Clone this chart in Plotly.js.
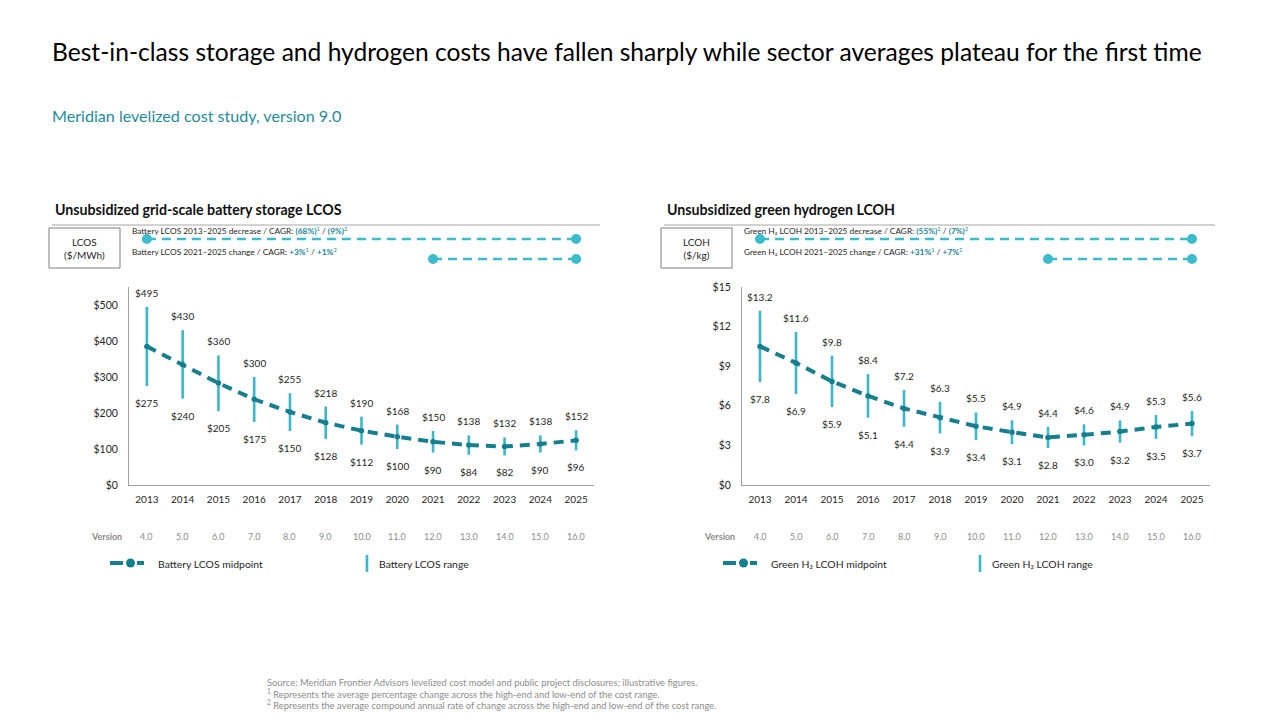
<!DOCTYPE html>
<html>
<head>
<meta charset="utf-8">
<script src="https://cdn.plot.ly/plotly-3.0.1.min.js"></script>
<style>html,body{margin:0;padding:0;background:#fff;}#chart{width:1280px;height:720px;}</style>
</head>
<body>
<div id="chart"></div>
<script>
// ---------- data ----------
const years = ['2013','2014','2015','2016','2017','2018','2019','2020','2021','2022','2023','2024','2025'];
const versions = ['4.0','5.0','6.0','7.0','8.0','9.0','10.0','11.0','12.0','13.0','14.0','15.0','16.0'];

const batteryHigh = [495,430,360,300,255,218,190,168,150,138,132,138,152];
const batteryLow  = [275,240,205,175,150,128,112,100,90,84,82,90,96];
const batteryMid  = [385,335,283,238,203,173,151,134,120,111,107,114,124];
const batteryTicks = [0,100,200,300,400,500];

const h2High = [13.2,11.6,9.8,8.4,7.2,6.3,5.5,4.9,4.4,4.6,4.9,5.3,5.6];
const h2Low  = [7.8,6.9,5.9,5.1,4.4,3.9,3.4,3.1,2.8,3.0,3.2,3.5,3.7];
const h2Mid  = [10.5,9.25,7.85,6.75,5.8,5.1,4.45,4.0,3.6,3.8,4.05,4.4,4.65];
const h2Ticks = [0,3,6,9,12,15];

const periodStart = ['2013','2021'];
const periodEnd   = ['2025','2025'];

const batteryStats = [
  {label:'Battery LCOS 2013\u20132025 decrease / CAGR: ', a:'(68%)', b:'(9%)'},
  {label:'Battery LCOS 2021\u20132025 change / CAGR: ', a:'+3%', b:'+1%'}
];
const h2Stats = [
  {label:'Green H\u2082 LCOH 2013\u20132025 decrease / CAGR: ', a:'(55%)', b:'(7%)'},
  {label:'Green H\u2082 LCOH 2021\u20132025 change / CAGR: ', a:'+31%', b:'+7%'}
];

// ---------- styles ----------
const FONT = 'Lato, "Open Sans", sans-serif';
const MID_COLOR = '#167f8f';
const RANGE_COLOR = '#3ab8cb';
const HEAD_COLOR = '#3bbccd';
const TEAL_TEXT = '#1a8595';
const AXIS_COLOR = '#a0a0a0';

const W = 1280, H = 720;
const px = x => x / W;
const py = y => (H - y) / H;

const traces = [];
const annotations = [];
const shapes = [];

function rangeSegments(high, low) {
  const xs = [], ys = [];
  years.forEach((yr, i) => { xs.push(yr, yr, null); ys.push(low[i], high[i], null); });
  return {xs, ys};
}

function buildPanel(opt) {
  const {xid, yid, yhid, high, low, mid, fmt, stats, midName, rangeName, panelLeft, panelRight, title, unitText, legendX} = opt;

  const seg = rangeSegments(high, low);
  traces.push({x: seg.xs, y: seg.ys, xaxis: xid, yaxis: yid, type: 'scatter', mode: 'lines',
    line: {color: RANGE_COLOR, width: 2.6}, hoverinfo: 'skip', showlegend: false, connectgaps: false, name: rangeName});
  traces.push({x: years, y: mid, xaxis: xid, yaxis: yid, type: 'scatter', mode: 'lines+markers',
    line: {color: MID_COLOR, width: 4, dash: '10px,7px'}, marker: {color: MID_COLOR, size: 5.5},
    showlegend: false, name: midName});

  years.forEach((yr, i) => {
    annotations.push({xref: xid, yref: yid, x: i, y: high[i], yshift: 14, text: fmt(high[i]), showarrow: false,
      xanchor: 'center', yanchor: 'middle', font: {family: FONT, size: 10, color: '#262626'}});
    annotations.push({xref: xid, yref: yid, x: i, y: low[i], yshift: -17, text: fmt(low[i]), showarrow: false,
      xanchor: 'center', yanchor: 'middle', font: {family: FONT, size: 10, color: '#262626'}});
    annotations.push({xref: xid, yref: 'paper', x: i, y: py(536), text: versions[i], showarrow: false,
      xanchor: 'center', yanchor: 'middle', font: {family: FONT, size: 9, color: '#8c8c8c'}});
  });

  // header period segments
  periodStart.forEach((s, k) => {
    traces.push({x: [s, periodEnd[k]], y: [1.5 - k, 1.5 - k], xaxis: xid, yaxis: yhid, type: 'scatter', mode: 'lines+markers',
      line: {color: HEAD_COLOR, width: 2.5, dash: '9px,6px'}, marker: {color: HEAD_COLOR, size: 10},
      hoverinfo: 'skip', showlegend: false});
  });

  // header stats text
  stats.forEach((st, k) => {
    annotations.push({xref: 'paper', yref: 'paper', x: px(panelLeft + 77), y: py(231 + k * 21), xanchor: 'left', yanchor: 'middle',
      showarrow: false,
      text: st.label + '<span style="color:' + TEAL_TEXT + '"><b>' + st.a + '</b><sup>1</sup></span> / ' +
            '<span style="color:' + TEAL_TEXT + '"><b>' + st.b + '</b><sup>2</sup></span>',
      font: {family: FONT, size: 8.3, color: '#262626'}});
  });

  // panel title and underline
  annotations.push({xref: 'paper', yref: 'paper', x: px(panelLeft), y: py(210), xanchor: 'left', yanchor: 'middle', showarrow: false,
    text: '<b>' + title + '</b>', font: {family: FONT, size: 14.2, color: '#111'}});
  shapes.push({type: 'line', xref: 'paper', yref: 'paper', x0: px(panelLeft - 1), x1: px(panelRight), y0: py(225), y1: py(225),
    line: {color: '#a6a6a6', width: 1}});
  // unit box
  shapes.push({type: 'rect', xref: 'paper', yref: 'paper', x0: px(panelLeft - 4), x1: px(panelLeft + 67), y0: py(228), y1: py(268),
    line: {color: '#7f7f7f', width: 1}, fillcolor: 'rgba(0,0,0,0)'});
  annotations.push({xref: 'paper', yref: 'paper', x: px(panelLeft + 31.5), y: py(248), xanchor: 'center', yanchor: 'middle', showarrow: false,
    text: unitText, font: {family: FONT, size: 10, color: '#262626'}});

  // Version label
  annotations.push({xref: 'paper', yref: 'paper', x: px(legendX - 21), y: py(536), xanchor: 'left', yanchor: 'middle', showarrow: false,
    text: '<b>Version</b>', font: {family: FONT, size: 9, color: '#8c8c8c'}});

  // legend: midpoint
  shapes.push({type: 'line', xref: 'paper', yref: 'paper', x0: px(legendX), x1: px(legendX + 13), y0: py(563), y1: py(563),
    line: {color: MID_COLOR, width: 4}});
  shapes.push({type: 'line', xref: 'paper', yref: 'paper', x0: px(legendX + 27), x1: px(legendX + 34), y0: py(563), y1: py(563),
    line: {color: MID_COLOR, width: 4}});
  shapes.push({type: 'circle', xref: 'paper', yref: 'paper', x0: px(legendX + 16), x1: px(legendX + 25), y0: py(558.5), y1: py(567.5),
    line: {width: 0}, fillcolor: MID_COLOR});
  annotations.push({xref: 'paper', yref: 'paper', x: px(legendX + 46), y: py(564), xanchor: 'left', yanchor: 'middle', showarrow: false,
    text: midName, font: {family: FONT, size: 10.4, color: '#262626'}});
  // legend: range
  shapes.push({type: 'line', xref: 'paper', yref: 'paper', x0: px(legendX + 257), x1: px(legendX + 257), y0: py(555), y1: py(572),
    line: {color: RANGE_COLOR, width: 2.6}});
  annotations.push({xref: 'paper', yref: 'paper', x: px(legendX + 267), y: py(564), xanchor: 'left', yanchor: 'middle', showarrow: false,
    text: rangeName, font: {family: FONT, size: 10.4, color: '#262626'}});
}

buildPanel({xid: 'x', yid: 'y', yhid: 'y3', high: batteryHigh, low: batteryLow, mid: batteryMid,
  fmt: v => '$' + v, stats: batteryStats, midName: 'Battery LCOS midpoint', rangeName: 'Battery LCOS range',
  panelLeft: 53, panelRight: 600, title: 'Unsubsidized grid-scale battery storage LCOS', unitText: 'LCOS<br>($/MWh)', legendX: 110});
buildPanel({xid: 'x2', yid: 'y2', yhid: 'y4', high: h2High, low: h2Low, mid: h2Mid,
  fmt: v => '$' + v.toFixed(1), stats: h2Stats, midName: 'Green H\u2082 LCOH midpoint', rangeName: 'Green H\u2082 LCOH range',
  panelLeft: 665, panelRight: 1215, title: 'Unsubsidized green hydrogen LCOH', unitText: 'LCOH<br>($/kg)', legendX: 723});

// page title, subtitle, footnotes
annotations.push({xref: 'paper', yref: 'paper', x: px(50), y: py(52), xanchor: 'left', yanchor: 'middle', showarrow: false,
  text: 'Best-in-class storage and hydrogen costs have fallen sharply while sector averages plateau for the first time',
  font: {family: FONT, size: 24.6, color: '#000'}});
annotations.push({xref: 'paper', yref: 'paper', x: px(50), y: py(116), xanchor: 'left', yanchor: 'middle', showarrow: false,
  text: 'Meridian levelized cost study, version 9.0', font: {family: FONT, size: 16.1, color: '#1e8c9c'}});
const footnotes = [
  'Source: Meridian Frontier Advisors levelized cost model and public project disclosures; illustrative figures.',
  '<sup>1</sup> Represents the average percentage change across the high-end and low-end of the cost range.',
  '<sup>2</sup> Represents the average compound annual rate of change across the high-end and low-end of the cost range.'
];
footnotes.forEach((t, k) => annotations.push({xref: 'paper', yref: 'paper', x: px(265), y: py(682 + k * 11.5), xanchor: 'left', yanchor: 'middle',
  showarrow: false, text: t, font: {family: FONT, size: 9.4, color: '#8c8c8c'}}));

const xBase = {type: 'category', range: [-0.5, 12.5], showgrid: false, zeroline: false, showline: true, linecolor: AXIS_COLOR, linewidth: 1,
  ticks: '', tickfont: {family: FONT, size: 10, color: '#262626'}, ticklabelstandoff: 5, fixedrange: true};
const yBase = {showgrid: false, zeroline: false, showline: true, linecolor: AXIS_COLOR, linewidth: 1, ticks: '', tickmode: 'array',
  tickfont: {family: FONT, size: 10.5, color: '#262626'}, ticklabelstandoff: 8, fixedrange: true};
const yDomain = [py(485), py(287)];
const hDomain = [py(269), py(229)];

const layout = {
  width: W, height: H, margin: {l: 0, r: 0, t: 0, b: 0}, paper_bgcolor: '#fff', plot_bgcolor: 'rgba(0,0,0,0)',
  showlegend: false, font: {family: FONT},
  xaxis: Object.assign({}, xBase, {domain: [px(129), px(594)], anchor: 'y'}),
  xaxis2: Object.assign({}, xBase, {domain: [px(742), px(1210)], anchor: 'y2'}),
  yaxis: Object.assign({}, yBase, {domain: yDomain, range: [0, 550], tickvals: batteryTicks,
    ticktext: batteryTicks.map(v => '$' + v), anchor: 'x'}),
  yaxis2: Object.assign({}, yBase, {domain: yDomain, range: [0, 15], tickvals: h2Ticks,
    ticktext: h2Ticks.map(v => '$' + v), anchor: 'x2'}),
  yaxis3: {domain: hDomain, range: [0, 2], visible: false, anchor: 'x', fixedrange: true},
  yaxis4: {domain: hDomain, range: [0, 2], visible: false, anchor: 'x2', fixedrange: true},
  annotations: annotations, shapes: shapes
};

Plotly.newPlot('chart', traces, layout, {displayModeBar: false, staticPlot: true});
</script>
</body>
</html>
